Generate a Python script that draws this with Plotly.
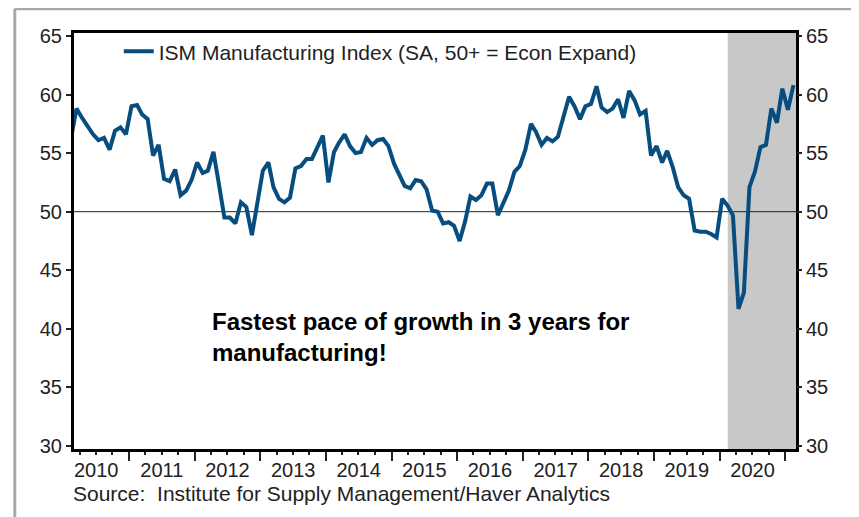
import pandas as pd
import plotly.graph_objects as go

# monthly ISM manufacturing index, Feb 2010 .. Feb 2021
first_month = "2010-02-01"
ism_values = [
    56.5, 58.8, 58.0, 57.3, 56.6, 56.1, 56.3, 55.3, 56.9, 57.2, 56.6,          # 2010
    59.0, 59.1, 58.3, 57.9, 54.8, 55.7, 52.8, 52.6, 53.6, 51.4, 51.8, 52.7,    # 2011
    54.2, 53.3, 53.5, 55.1, 52.4, 49.5, 49.5, 49.0, 50.8, 50.4, 48.0, 50.5,    # 2012
    53.5, 54.2, 52.1, 51.1, 50.8, 51.2, 53.7, 53.9, 54.5, 54.5, 55.5, 56.5,    # 2013
    52.5, 55.1, 55.9, 56.6, 55.6, 55.0, 55.1, 56.3, 55.7, 56.1, 56.2, 55.6,    # 2014
    54.1, 53.1, 52.2, 52.0, 52.7, 52.6, 51.9, 50.1, 50.0, 49.0, 49.1, 48.8,    # 2015
    47.5, 49.2, 51.3, 51.0, 51.4, 52.4, 52.4, 49.7, 50.8, 51.8, 53.4, 53.9,    # 2016
    55.3, 57.5, 56.8, 55.7, 56.3, 56.0, 56.4, 58.0, 59.8, 59.0, 57.9, 59.0,    # 2017
    59.2, 60.7, 58.9, 58.5, 58.8, 59.6, 58.0, 60.3, 59.5, 58.3, 58.6, 54.8,    # 2018
    55.6, 54.2, 55.2, 53.8, 52.1, 51.4, 51.1, 48.4, 48.3, 48.3, 48.1, 47.8,    # 2019
    51.1, 50.5, 49.7, 41.7, 43.1, 52.1, 53.4, 55.5, 55.7, 58.8, 57.6, 60.5,    # 2020
    58.7, 60.8,                                                                # 2021
]
recession_start = "2020-02-15"
x_range = ["2010-03-01", "2021-03-01"]
y_range = [29.75, 65.25]
y_ticks = [30, 35, 40, 45, 50, 55, 60, 65]
expansion_line = 50

series_name = "ISM Manufacturing Index (SA, 50+ = Econ Expand)"
note_text = "Fastest pace of growth in 3 years for<br>manufacturing!"
source_text = "Source:\u00a0 Institute for Supply Management/Haver Analytics"

dates = pd.date_range(first_month, periods=len(ism_values), freq="MS") + pd.Timedelta(days=14)

FONT = "Arial, Liberation Sans, sans-serif"
LINE_BLUE = "#074d80"

fig = go.Figure()

fig.add_trace(go.Scatter(
    x=dates, y=ism_values, mode="lines", name=series_name,
    line=dict(color=LINE_BLUE, width=4),
))
# invisible copy so the right-hand axis gets drawn
fig.add_trace(go.Scatter(
    x=dates, y=ism_values, mode="lines", yaxis="y2", showlegend=False,
    line=dict(width=0), opacity=0, hoverinfo="skip",
))

# recession shading and the 50 line
fig.add_shape(type="rect", xref="x", yref="y domain", x0=recession_start, x1=x_range[1],
              y0=0, y1=1, fillcolor="#c8c8c8", line=dict(width=0), layer="below")
fig.add_shape(type="line", xref="x domain", yref="y", x0=0, x1=1,
              y0=expansion_line, y1=expansion_line, line=dict(color="#222", width=1), layer="below")

# grey frame around the figure (top and left)
frame = dict(color="#a8a8a8", width=3)
fig.add_shape(type="line", xref="paper", yref="paper", x0=-0.082, x1=1.1, y0=1.058, y1=1.058, line=frame)
fig.add_shape(type="line", xref="paper", yref="paper", x0=-0.082, x1=-0.082, y0=1.058, y1=-0.2, line=frame)

fig.add_annotation(text=note_text, xref="paper", yref="y", x=0.188, y=39.3,
                   xanchor="left", yanchor="middle", align="left", showarrow=False,
                   font=dict(family=FONT, size=24, color="black", weight="bold"))
fig.add_annotation(text=source_text, xref="paper", yref="paper", x=-0.004, y=-0.106,
                   xanchor="left", yanchor="middle", showarrow=False,
                   font=dict(family=FONT, size=21, color="#222"))

yaxis_style = dict(
    range=y_range, tickvals=y_ticks, ticks="outside", ticklen=5, tickwidth=1.5,
    tickcolor="#222", showgrid=False, zeroline=False, automargin=False,
    tickfont=dict(family=FONT, size=20, color="#222"),
)

# the page puts the plot 8px in from the top-left, so the figure is 8px smaller
fig.update_layout(
    width=851, height=509,
    margin=dict(l=66, r=63, t=25, b=68, autoexpand=False),
    paper_bgcolor="white", plot_bgcolor="white",
    showlegend=True,
    legend=dict(x=0.062, y=0.955, xanchor="left", yanchor="middle",
                bgcolor="rgba(0,0,0,0)", font=dict(family=FONT, size=21, color="#222")),
    xaxis=dict(
        type="date", range=x_range, dtick="M12", tick0="2010-01-01",
        ticklabelmode="period", tickformat="%Y", ticklabelstandoff=-8,
        ticks="outside", ticklen=9, tickwidth=1.5, tickcolor="#222",
        minor=dict(dtick="M3", ticks="outside", ticklen=3, tickcolor="#222"),
        showline=True, linewidth=3, linecolor="black", mirror=True,
        showgrid=False, zeroline=False, automargin=False,
        tickfont=dict(family=FONT, size=20, color="#222"),
    ),
    yaxis=dict(showline=True, linewidth=3, linecolor="black", mirror=True, **yaxis_style),
    yaxis2=dict(overlaying="y", side="right", showline=False, **yaxis_style),
)

fig.write_html("out.html")
